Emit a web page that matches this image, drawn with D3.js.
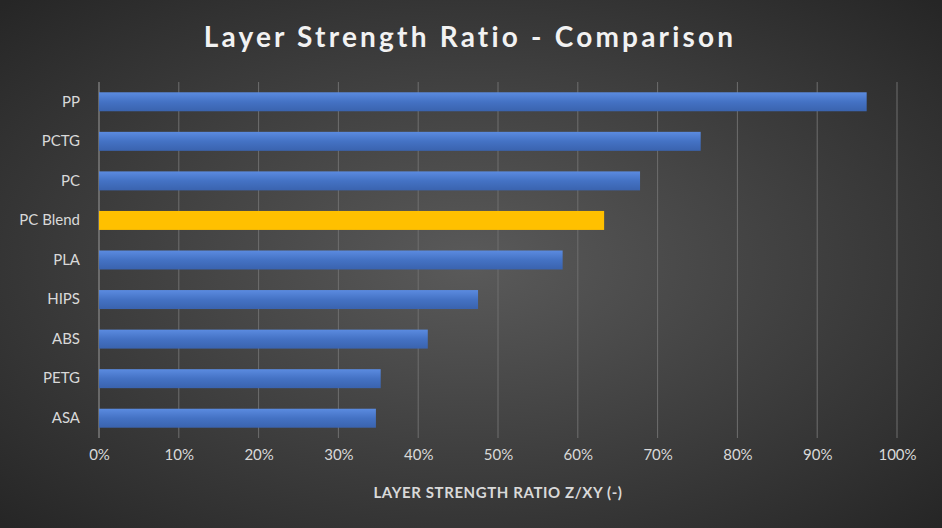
<!DOCTYPE html>
<html><head><meta charset="utf-8">
<script src="https://cdn.jsdelivr.net/npm/d3@7"></script>
<style>
body{margin:0;background:#333}
text{font-family:Lato,"Open Sans",sans-serif}
</style></head>
<body><svg id="chart" width="942" height="528"></svg>
<script>
const categories = ['PP','PCTG','PC','PC Blend','PLA','HIPS','ABS','PETG','ASA']
const values = [96.2, 75.4, 67.8, 63.3, 58.1, 47.5, 41.2, 35.3, 34.7]
const highlight = 'PC Blend'
const ticks = [0,10,20,30,40,50,60,70,80,90,100]

const W = 942, H = 528,
    margin = {left: 99, right: 45, top: 82, bottom: 90}

const svg = d3.select('#chart')
const defs = svg.append('defs')

// Background glow
const bg = defs.append('radialGradient').attr('id','bg')
    .attr('cx','50%').attr('cy','50%').attr('r','70%')
bg.append('stop').attr('offset','0%').attr('stop-color','#5a5a5a')
bg.append('stop').attr('offset','100%').attr('stop-color','#262626')
svg.append('rect').attr('width',W).attr('height',H).attr('fill','url(#bg)')

const blue = defs.append('linearGradient').attr('id','blue').attr('x1',0).attr('y1',0).attr('x2',0).attr('y2',1)
blue.append('stop').attr('offset','0%').attr('stop-color','#5b8be0')
blue.append('stop').attr('offset','50%').attr('stop-color','#4472c4')
blue.append('stop').attr('offset','100%').attr('stop-color','#3a63ae')

const x = d3.scaleLinear().domain([0,100]).range([margin.left, W - margin.right])
const y = d3.scaleBand().domain(categories).range([margin.top, H - margin.bottom]).paddingInner(0.52).paddingOuter(0.26)

// Gridlines
svg.append('g').selectAll('line').data(ticks).join('line')
    .attr('x1', d => x(d)).attr('x2', d => x(d))
    .attr('y1', margin.top).attr('y2', H - margin.bottom)
    .attr('stroke', d => d === 0 ? '#9a9a9a' : '#6e6e6e').attr('stroke-width', 1)

// Bars
svg.append('g').selectAll('rect').data(categories).join('rect')
    .attr('x', x(0)).attr('y', d => y(d))
    .attr('width', (d,i) => x(values[i]) - x(0))
    .attr('height', y.bandwidth())
    .attr('fill', d => d === highlight ? '#ffc000' : 'url(#blue)')

// X axis
const xAxis = svg.append('g').attr('transform', `translate(0,${H - margin.bottom + 8})`)
    .call(d3.axisBottom(x).tickValues(ticks).tickSize(0).tickFormat(d => d + '%'))
xAxis.select('.domain').remove()
xAxis.selectAll('text').attr('fill','#d9d9d9').attr('font-size',15)

// Y axis
const yAxis = svg.append('g').attr('transform', `translate(${margin.left - 16},0)`)
    .call(d3.axisLeft(y).tickSize(0))
yAxis.select('.domain').remove()
yAxis.selectAll('text').attr('fill','#d9d9d9').attr('font-size',15)

// Titles
svg.append('text').attr('x', 470).attr('y', 47).attr('text-anchor','middle')
    .attr('fill','#f2f2f2').attr('font-size',28).attr('font-weight','bold')
    .attr('letter-spacing', 3.2).text('Layer Strength Ratio - Comparison')
svg.append('text').attr('x', 498).attr('y', 498).attr('text-anchor','middle')
    .attr('fill','#d9d9d9').attr('font-size',15).attr('font-weight','bold')
    .attr('letter-spacing', 0.6).text('LAYER STRENGTH RATIO Z/XY (-)')
</script></body></html>
